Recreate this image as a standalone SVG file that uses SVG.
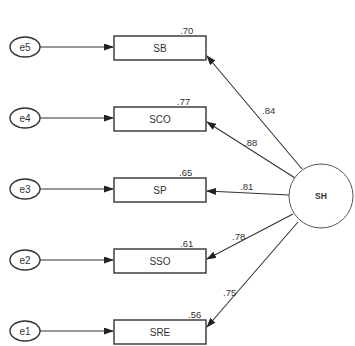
<svg xmlns="http://www.w3.org/2000/svg" width="355" height="346" viewBox="0 0 355 346">
<defs>
<marker id="ah" markerWidth="10" markerHeight="7" refX="9" refY="3.5" orient="auto" markerUnits="userSpaceOnUse">
<path d="M0,0 L10,3.5 L0,7 Z" fill="#222"/>
</marker>
<style>
.box{fill:#fff;stroke:#333;stroke-width:1.4}
.err{fill:#fff;stroke:#333;stroke-width:1.4}
.lat{fill:#fff;stroke:#555;stroke-width:1}
.lbl{font-family:"Liberation Sans",Arial,sans-serif;font-size:10px;fill:#333;text-anchor:middle}
.num{font-family:"Liberation Sans",Arial,sans-serif;font-size:9.5px;fill:#333}
.con{stroke:#333;stroke-width:1.1;fill:none;marker-end:url(#ah)}
</style>
</defs>
<rect width="355" height="346" fill="#fff"/>
<g id="connectors">
<line class="con" x1="40" y1="47" x2="113" y2="47"/>
<line class="con" x1="40" y1="118" x2="113" y2="118"/>
<line class="con" x1="40" y1="189" x2="113" y2="189"/>
<line class="con" x1="40" y1="260" x2="113" y2="260"/>
<line class="con" x1="40" y1="331" x2="113" y2="331"/>
<line class="con" x1="302" y1="169" x2="207" y2="56"/>
<line class="con" x1="295" y1="178" x2="207" y2="122"/>
<line class="con" x1="289" y1="195" x2="207" y2="191"/>
<line class="con" x1="293" y1="214" x2="207" y2="259"/>
<line class="con" x1="298" y1="222" x2="207" y2="327"/>
<text class="num" x="262" y="114">.84</text>
<text class="num" x="244" y="146">.88</text>
<text class="num" x="240" y="190">.81</text>
<text class="num" x="232" y="240">.78</text>
<text class="num" x="223" y="296">.75</text>
</g>
<g id="e5"><ellipse class="err" cx="25" cy="47" rx="15" ry="10"/><text class="lbl" x="25" y="50.5">e5</text></g>
<g id="e4"><ellipse class="err" cx="25" cy="118" rx="15" ry="10"/><text class="lbl" x="25" y="121.5">e4</text></g>
<g id="e3"><ellipse class="err" cx="25" cy="189" rx="15" ry="10"/><text class="lbl" x="25" y="192.5">e3</text></g>
<g id="e2"><ellipse class="err" cx="25" cy="260" rx="15" ry="10"/><text class="lbl" x="25" y="263.5">e2</text></g>
<g id="e1"><ellipse class="err" cx="25" cy="331" rx="15" ry="10"/><text class="lbl" x="25" y="334.5">e1</text></g>
<g id="SB"><rect class="box" x="114" y="36" width="92" height="24"/><text class="lbl" x="160" y="51.5">SB</text><text class="num" x="180" y="34">.70</text></g>
<g id="SCO"><rect class="box" x="114" y="107" width="92" height="24"/><text class="lbl" x="160" y="122.5">SCO</text><text class="num" x="177" y="105">.77</text></g>
<g id="SP"><rect class="box" x="114" y="178" width="92" height="24"/><text class="lbl" x="160" y="193.5">SP</text><text class="num" x="179" y="176">.65</text></g>
<g id="SSO"><rect class="box" x="114" y="249" width="92" height="24"/><text class="lbl" x="160" y="264.5">SSO</text><text class="num" x="180" y="247">.61</text></g>
<g id="SRE"><rect class="box" x="114" y="320" width="92" height="24"/><text class="lbl" x="160" y="335.5">SRE</text><text class="num" x="188" y="318">.56</text></g>
<g id="SH"><circle class="lat" cx="321" cy="196" r="32"/><text class="lbl" x="321" y="199" style="font-size:8.5px;font-weight:bold">SH</text></g>
</svg>
